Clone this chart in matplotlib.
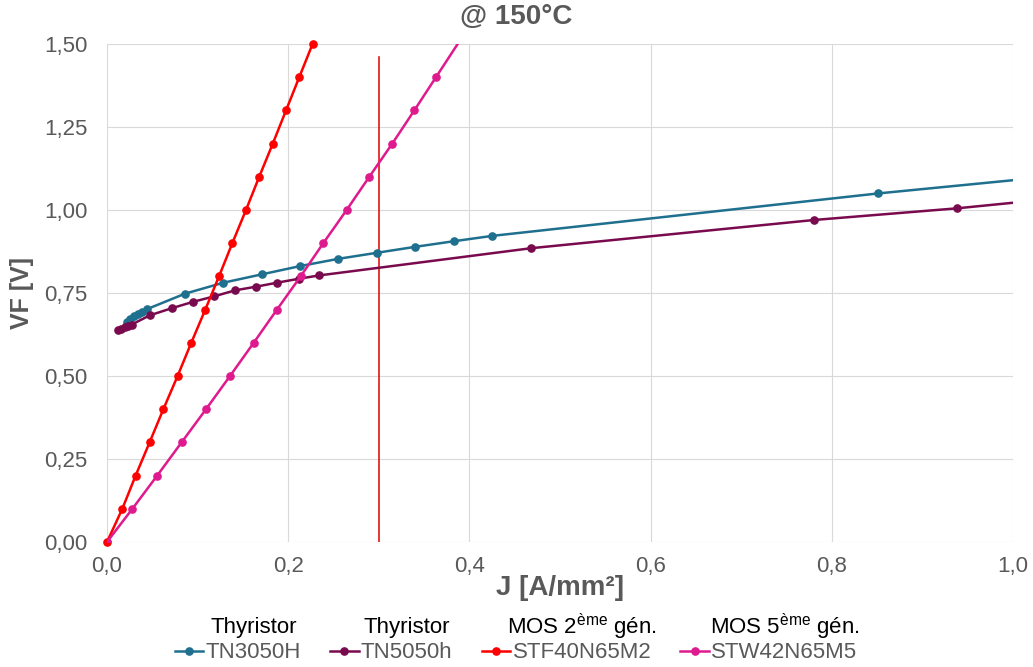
import numpy as np
import matplotlib
matplotlib.use("Agg")
import matplotlib.pyplot as plt
from matplotlib.ticker import FuncFormatter, MultipleLocator

plt.rcParams['font.family'] = ['Liberation Sans', 'DejaVu Sans']
plt.rcParams['mathtext.fontset'] = 'custom'
plt.rcParams['mathtext.rm'] = 'Liberation Sans'

# data (J in A/mm², VF in V)
tn3050h_j = [0.0217, 0.0254, 0.0296, 0.0338, 0.0381, 0.0438, 0.0861, 0.1284, 0.1706,
             0.2130, 0.2554, 0.2976, 0.3400, 0.3830, 0.4250, 0.8515, 1.27]
tn3050h_v = [0.663, 0.672, 0.680, 0.687, 0.694, 0.701, 0.748, 0.781, 0.806,
             0.831, 0.853, 0.871, 0.889, 0.906, 0.922, 1.050, 1.162]

tn5050h_j = [0.0125, 0.0160, 0.0195, 0.0234, 0.0272, 0.0475, 0.0713, 0.0945, 0.1184,
             0.1413, 0.1645, 0.1876, 0.2119, 0.2344, 0.4684, 0.7807, 0.9380, 1.17]
tn5050h_v = [0.639, 0.643, 0.647, 0.651, 0.655, 0.683, 0.704, 0.723, 0.740,
             0.758, 0.769, 0.781, 0.793, 0.803, 0.885, 0.970, 1.005, 1.068]

stf_j = [0.0, 0.0169, 0.0316, 0.0470, 0.0622, 0.0779, 0.0930, 0.1085, 0.1236,
         0.1383, 0.1534, 0.1680, 0.1830, 0.1976, 0.2122, 0.2269]
stf_v = [0.0, 0.1, 0.2, 0.3, 0.4, 0.5, 0.6, 0.7, 0.8, 0.9, 1.0, 1.1, 1.2, 1.3, 1.4, 1.5]

stw_j = [0.0, 0.0280, 0.0554, 0.0823, 0.1093, 0.1358, 0.1619, 0.1876, 0.2137,
         0.2387, 0.2645, 0.2895, 0.3149, 0.3392, 0.3631, 0.4110]
stw_v = [0.0, 0.1, 0.2, 0.3, 0.4, 0.5, 0.6, 0.7, 0.8, 0.9, 1.0, 1.1, 1.2, 1.3, 1.4, 1.6]

limit_j = [0.3, 0.3]
limit_v = [0.0, 1.46]

names = ['TN3050H', 'TN5050h', 'STF40N65M2', 'STW42N65M5']
groups = ['Thyristor', 'Thyristor', r'MOS 2$^{\mathregular{ème}}$ gén.', r'MOS 5$^{\mathregular{ème}}$ gén.']
colors = ['#1F6F8F', '#7A0A4E', '#FF0000', '#DE1A8E']

gray = '#595959'

fig = plt.figure(figsize=(10.33, 6.67), dpi=100)
ax = fig.add_axes([107/1033, 1-542/667, 906/1033, 498/667])

# vertical limit line (behind the curves)
ax.plot(limit_j, limit_v, color='#E00000', lw=1.1, zorder=1)

series = [(tn3050h_j, tn3050h_v), (tn5050h_j, tn5050h_v), (stf_j, stf_v), (stw_j, stw_v)]
for (j, v), name, c in zip(series, names, colors):
    ax.plot(j, v, color=c, lw=1.8, marker='o', ms=5.2, label=name, zorder=3,
            clip_on=(name != 'STF40N65M2'))

ax.set_xlim(0, 1.0)
ax.set_ylim(0, 1.5)
ax.xaxis.set_major_locator(MultipleLocator(0.2))
ax.yaxis.set_major_locator(MultipleLocator(0.25))
ax.xaxis.set_major_formatter(FuncFormatter(lambda x, p: f"{x:.1f}".replace('.', ',')))
ax.yaxis.set_major_formatter(FuncFormatter(lambda y, p: f"{y:.2f}".replace('.', ',')))
ax.grid(True, color='#D9D9D9', lw=0.8)
ax.set_axisbelow(True)
for s in ax.spines.values():
    s.set_visible(False)
ax.tick_params(axis='both', length=0, labelsize=16, colors=gray)
ax.tick_params(axis='y', pad=14)
ax.tick_params(axis='x', pad=10)

ax.set_xlabel('J [A/mm²]', fontsize=20, fontweight='bold', color=gray)
ax.xaxis.set_label_coords(0.5, (542-588)/498)
ax.xaxis.label.set_va('center')
ax.set_ylabel('VF [V]', fontsize=18, fontweight='bold', color=gray)
ax.yaxis.set_label_coords((22-107)/906, 0.5)
ax.yaxis.label.set_va('center')

fig.text(0.5, 1-17/667, '@ 150°C', fontsize=20, fontweight='bold', color=gray,
         ha='center', va='center')

leg = fig.legend(loc='center', bbox_to_anchor=(516/1033, 1-653/667), ncol=4,
                 frameon=False, fontsize=16, numpoints=1, handlelength=1.3,
                 handletextpad=0.1, columnspacing=1.3, borderpad=0, borderaxespad=0)
for t in leg.get_texts():
    t.set_color(gray)

# group headers above each legend entry
fig.canvas.draw()
r = fig.canvas.get_renderer()
for t, g in zip(leg.get_texts(), groups):
    bb = t.get_window_extent(r)
    xc = (bb.x0 + bb.x1) / 2 / fig.bbox.width
    fig.text(xc, 1-627/667, g, fontsize=16, color='black', ha='center', va='center')

fig.savefig('out.png', dpi=100)
